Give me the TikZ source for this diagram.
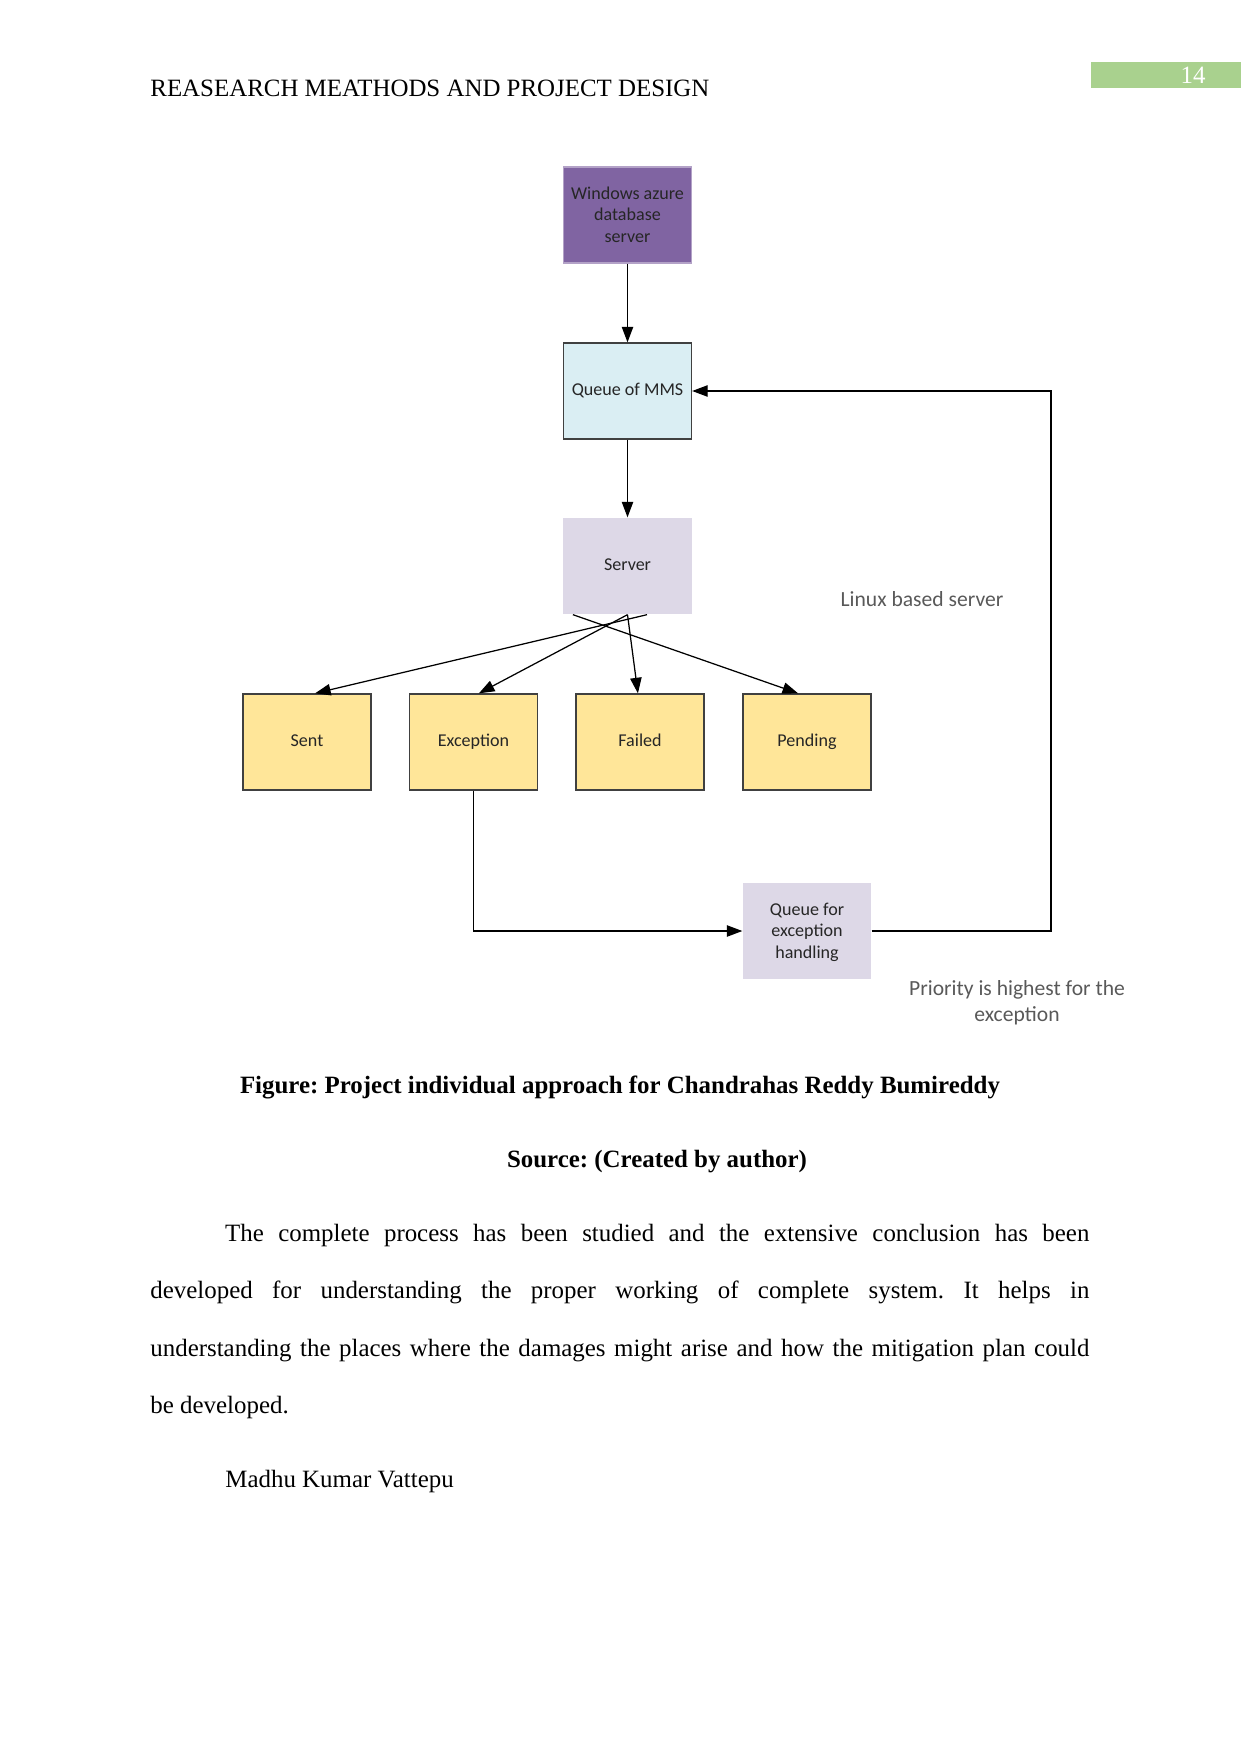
\documentclass[tikz,border=0pt]{standalone}
\usepackage{fontspec}
\setmainfont{Liberation Serif}
\newfontfamily\boxfont{Carlito}
\usetikzlibrary{arrows.meta}
\frenchspacing

\definecolor{azurepurple}{RGB}{128,100,162}
\definecolor{queueblue}{RGB}{218,238,243}
\definecolor{serverlilac}{RGB}{221,216,231}
\definecolor{statusyellow}{RGB}{255,230,153}
\definecolor{pagegreen}{RGB}{169,209,142}
\definecolor{boxtext}{RGB}{38,38,38}
\definecolor{notegray}{RGB}{89,89,89}

\tikzset{
  flowbox/.style={draw=black!75, line width=0.6pt, minimum width=61.7pt,
    minimum height=46.3pt, inner sep=2pt, align=center, text=boxtext,
    font=\boxfont\fontsize{8.7}{10.3}\selectfont,
    execute at begin node=\strut},
  threeline/.style={text depth=0.4pt},
  flowline/.style={line width=0.6pt, -{Triangle[length=7.5pt,width=5.5pt]}},
  note/.style={text=notegray, align=center,
    font=\boxfont\fontsize{10.4}{12.6}\selectfont},
  pagetext/.style={inner sep=0pt, font=\fontsize{12}{14}\selectfont}
}

\begin{document}
\begin{tikzpicture}[x=0.4818pt, y=-0.4818pt]
  \useasboundingbox (0,0) rectangle (1241,1754);

  % Page header
  \node[pagetext, anchor=base west] (header) at (150,97)
    {REASEARCH MEATHODS AND PROJECT DESIGN};
  \fill[pagegreen] (1091,62) rectangle (1241,88);
  \node[pagetext, text=white] (pagenum) at (1193,75) {14};

  % Boxes
  \node[flowbox, threeline, fill=azurepurple, draw=azurepurple!60] (azure)
    at (627.5,215) {Windows azure\\database\\server};
  \node[flowbox, fill=queueblue] (mms) at (627.5,391) {Queue of MMS};
  \node[flowbox, fill=serverlilac, draw=none] (server) at (627.5,566) {Server};
  \node[flowbox, fill=statusyellow] (sent) at (307,742) {Sent};
  \node[flowbox, fill=statusyellow] (exception) at (473.5,742) {Exception};
  \node[flowbox, fill=statusyellow] (failed) at (640,742) {Failed};
  \node[flowbox, fill=statusyellow] (pending) at (807,742) {Pending};
  \node[flowbox, threeline, fill=serverlilac, draw=none] (excqueue)
    at (807,931) {Queue for\\exception\\handling};

  % Notes
  \node[note] (linuxnote) at (922,599) {Linux based server};
  \node[note] (prionote) at (1017,1003) {Priority is highest for the\\exception};

  % Connectors
  \draw[flowline] (azure) -- (mms);
  \draw[flowline] (mms) -- (server);
  \coordinate (srvleft) at ([xshift=-26.3pt]server.south);
  \coordinate (srvright) at ([xshift=9.4pt]server.south);
  \draw[flowline] (srvright) -- ([xshift=3.9pt]sent.north);
  \draw[flowline] (server.south) -- ([xshift=2.6pt]exception.north);
  \draw[flowline] (server.south) -- ([xshift=-1pt]failed.north);
  \draw[flowline] (srvleft) -- ([xshift=-4.3pt]pending.north);
  \draw[flowline] (exception.south) |- (excqueue.west);
  \coordinate (loopcorner) at (1051,931);
  \draw[flowline] (excqueue.east) -- (loopcorner) |- (mms.east);

  % Caption
  \node[pagetext, anchor=base, font=\bfseries\fontsize{12}{14}\selectfont]
    (caption) at (620,1093)
    {Figure: Project individual approach for Chandrahas Reddy Bumireddy};
  \node[pagetext, anchor=base, font=\bfseries\fontsize{12}{14}\selectfont]
    (source) at (657,1167) {Source: (Created by author)};

  % Body text
  \node[pagetext, anchor=north west, text width=452.4pt, align=justify,
    font=\fontsize{12}{27.6}\selectfont] (bodytext) at (150,1224)
    {\hspace*{36pt}The complete process has been studied and the extensive
    conclusion has been\linebreak developed for understanding the proper
    working of complete system. It helps in\linebreak understanding the
    places where the damages might arise and how the mitigation plan
    could\linebreak be developed.};
  \node[pagetext, anchor=base west] (author) at (225,1487)
    {Madhu Kumar Vattepu};
\end{tikzpicture}
\end{document}
